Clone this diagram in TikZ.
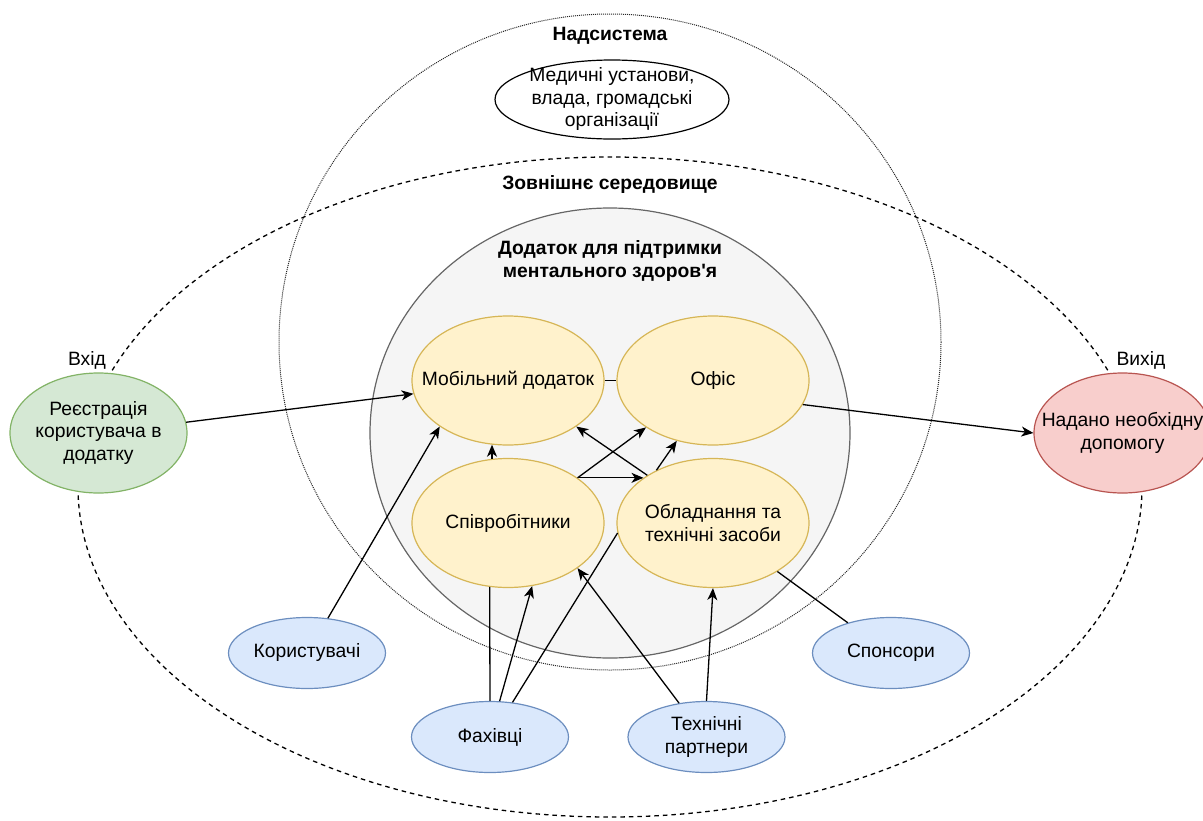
\documentclass[tikz,border=0pt]{standalone}
\usepackage{fontspec}
\setmainfont{Liberation Sans}
\newfontfamily\uifont{Liberation Sans}
\usetikzlibrary{shapes.geometric,arrows.meta}

\definecolor{ylwfill}{HTML}{FFF2CC}
\definecolor{ylwline}{HTML}{D6B656}
\definecolor{grnfill}{HTML}{D5E8D4}
\definecolor{grnline}{HTML}{82B366}
\definecolor{redfill}{HTML}{F8CECC}
\definecolor{redline}{HTML}{B85450}
\definecolor{bluefill}{HTML}{DAE8FC}
\definecolor{blueline}{HTML}{6C8EBF}
\definecolor{sysfill}{HTML}{F5F5F5}
\definecolor{sysline}{HTML}{666666}

\begin{document}
\begin{tikzpicture}[x=1pt,y=-1pt,
  font=\uifont\fontsize{19.3}{22.5}\selectfont,
  % fixed-size ellipses: the negative inner sep lets the minimum size decide
  ell/.style={ellipse, draw, line width=1.2pt, inner sep=-40pt, align=center},
  core/.style={ell, fill=ylwfill, draw=ylwline, minimum width=192pt, minimum height=129pt},
  actor/.style={ell, fill=bluefill, draw=blueline, minimum width=157pt, minimum height=71pt},
  inbox/.style={ell, fill=grnfill, draw=grnline, minimum width=177pt, minimum height=120pt},
  outbox/.style={ell, fill=redfill, draw=redline, minimum width=177pt, minimum height=120pt},
  title/.style={font=\uifont\bfseries\fontsize{19.3}{22.5}\selectfont, align=center},
  link/.style={line width=1.3pt},
  arr/.style={link, -{Stealth[length=12pt,width=10pt,inset=3.5pt]}},
]
\useasboundingbox (0,0) rectangle (1203,820);
\clip (0,0) rectangle (1203,820);

% supersystem boundary
\draw[line width=1pt, black!85, dash pattern=on 1pt off 1pt] (610,342) ellipse [x radius=331, y radius=328];
% external environment boundary
\draw[line width=1.3pt, dash pattern=on 4.5pt off 4pt] (610,487) ellipse [x radius=532, y radius=330];
% the system itself
\draw[line width=1.2pt, draw=sysline, fill=sysfill] (610,433) ellipse [x radius=240, y radius=225];

% captions
\node[title] (tsup) at (610,36) {Надсистема};
\node[title] (tenv) at (610,185) {Зовнішнє середовище};
\node[title] (tsys) at (610,261) {Додаток для підтримки\\ментального здоров'я};
\node (lin) at (87,360) {Вхід};
\node (lout) at (1141,360) {Вихід};

% supersystem members
\node[ell, fill=white, draw=black, minimum width=234pt, minimum height=79pt] (med) at (612,99.5)
  {Медичні установи,\\влада, громадські\\організації};

% system elements
\node[core] (mob) at (508,380.5) {Мобільний додаток};
\node[core] (off) at (713,380.5) {Офіс};
\node[core] (spiv) at (508,523) {Співробітники};
\node[core] (obl) at (713,523) {Обладнання та\\технічні засоби};

% input and output
\node[inbox] (reg) at (98.5,433) {Реєстрація\\користувача в\\додатку};
\node[outbox] (res) at (1122.5,433) {Надано необхідну\\допомогу};

% environment actors
\node[actor] (kor) at (307,653) {Користувачі};
\node[actor] (spons) at (891,653) {Спонсори};
\node[actor] (fakh) at (490,737) {Фахівці};
\node[actor] (tekh) at (706.5,737) {Технічні\\партнери};

% connections
\draw[arr] (reg.7) -- (mob.188);
\draw[arr] (off.-15) -- (res.west);
\draw[link] (mob.east) -- (off.west);
\draw[arr] (spiv.104) -- (mob.256);
\draw[arr] (spiv.33) -- (off.215);
\draw[arr] (spiv.33) -- (obl.147);
\draw[arr] (obl.144) -- (mob.-34);
\draw[arr] (obl.137) -- (off.239);
\draw[arr] (kor.59) -- (mob.214);
\draw[link] (fakh.north) -- (spiv.254);
\draw[arr] (fakh.75) -- (spiv.-69);
\draw[link] (fakh.57) -- (obl.186);
\draw[arr] (tekh.129) -- (spiv.-33);
\draw[arr] (tekh.north) -- (obl.south);
\draw[link] (spons.145) -- (obl.-37);
\end{tikzpicture}
\end{document}
